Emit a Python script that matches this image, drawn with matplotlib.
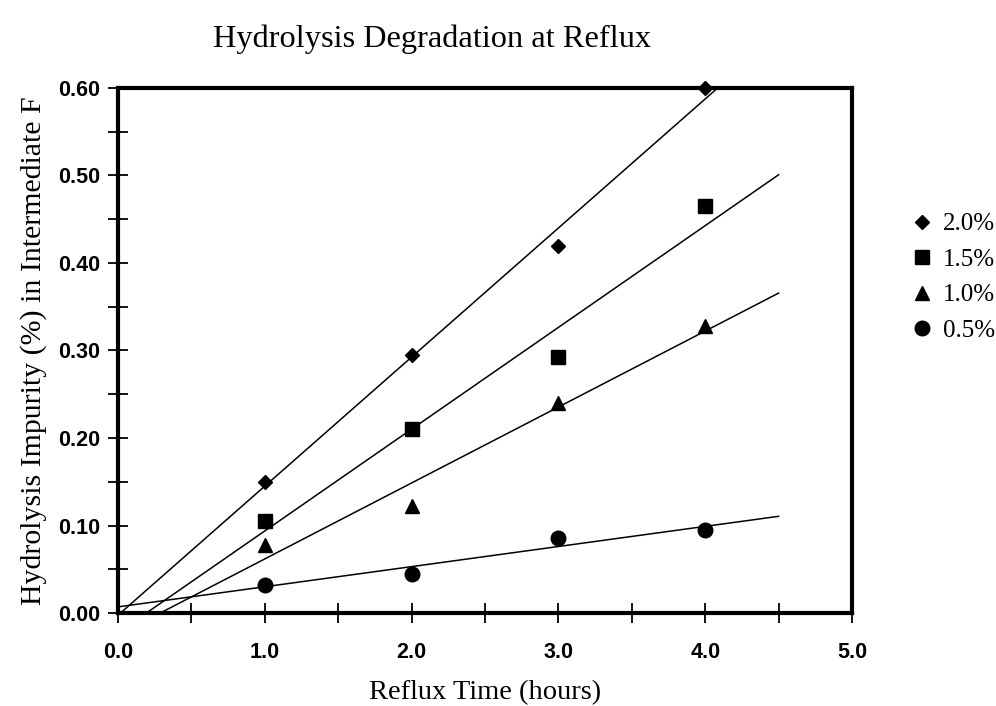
import matplotlib
matplotlib.use('Agg')
import matplotlib.pyplot as plt
from matplotlib.ticker import MultipleLocator
import numpy as np

# data
hours = [1.0, 2.0, 3.0, 4.0]
labels = ['2.0%', '1.5%', '1.0%', '0.5%']
markers = ['D', 's', '^', 'o']
msizes = [7.5, 10, 10, 10.5]
imp_20 = [0.150, 0.295, 0.420, 0.600]
imp_15 = [0.105, 0.210, 0.293, 0.465]
imp_10 = [0.078, 0.122, 0.240, 0.328]
imp_05 = [0.032, 0.045, 0.086, 0.095]
series = [imp_20, imp_15, imp_10, imp_05]

fig = plt.figure(figsize=(9.96, 7.06), dpi=100)
ax = fig.add_axes([118/996, 1-613/706, (852-118)/996, (613-88)/706])

# points plus a straight-line fit for each concentration
xfit = np.array([0.0, 4.5])
for y, lab, m, ms in zip(series, labels, markers, msizes):
    ax.plot(hours, y, linestyle='none', marker=m, color='black', markersize=ms,
            label=lab, clip_on=False, zorder=3)
    k, b = np.polyfit(hours, y, 1)
    ax.plot(xfit, k*xfit + b, color='black', linewidth=1.1, zorder=2)

ax.set_xlim(0, 5)
ax.set_ylim(0, 0.6)
ax.xaxis.set_major_locator(MultipleLocator(1.0))
ax.xaxis.set_minor_locator(MultipleLocator(0.5))
ax.yaxis.set_major_locator(MultipleLocator(0.1))
ax.yaxis.set_minor_locator(MultipleLocator(0.05))
ax.xaxis.set_major_formatter(matplotlib.ticker.FormatStrFormatter('%.1f'))
ax.yaxis.set_major_formatter(matplotlib.ticker.FormatStrFormatter('%.2f'))
ax.tick_params(which='both', direction='inout', width=1.3, length=14)
ax.tick_params(which='minor', length=14)
ax.tick_params(axis='x', pad=14)
ax.tick_params(axis='y', pad=6)
for t in ax.get_xticklabels() + ax.get_yticklabels():
    t.set_fontfamily('Liberation Sans')
    t.set_fontweight('bold')
    t.set_fontsize(15.5)
for s in ax.spines.values():
    s.set_linewidth(3)

ax.set_xlabel('Reflux Time (hours)', fontfamily='Liberation Serif', fontsize=20.5, labelpad=12)
ax.set_ylabel('Hydrolysis Impurity (%) in Intermediate F', fontfamily='Liberation Serif',
              fontsize=21.5, labelpad=8)
fig.text(432/996, 1-39/706, 'Hydrolysis Degradation at Reflux', ha='center', va='center',
         fontfamily='Liberation Serif', fontsize=23.3)

ax.legend(loc='upper left', bbox_to_anchor=(1.056, 0.781), frameon=False,
          prop={'family': 'Liberation Serif', 'size': 18}, handletextpad=0.1,
          labelspacing=0.52, borderaxespad=0, handlelength=1.5)

fig.savefig('out.png', dpi=100)
